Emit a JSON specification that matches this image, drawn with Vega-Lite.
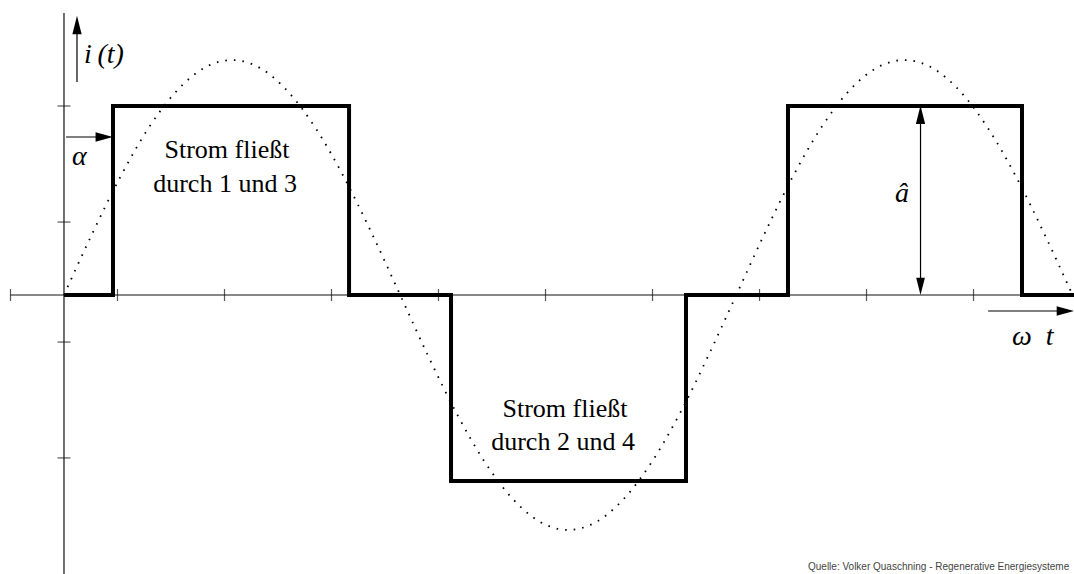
{
  "$schema": "https://vega.github.io/schema/vega-lite/v6.json",
  "width": 1074,
  "height": 574,
  "autosize": {"type": "none"},
  "padding": 0,
  "background": "white",
  "config": {"view": {"stroke": null}},
  "datasets": {
    "axes": [
      {"x": -0.5, "y": 0, "x2": 9.44, "y2": 0},
      {"x": 0, "y": 1.492, "x2": 0, "y2": -1.48}
    ],
    "ticks": [
      {"axis": "x", "v": -0.5}, {"axis": "x", "v": 0.5}, {"axis": "x", "v": 1.5},
      {"axis": "x", "v": 2.5}, {"axis": "x", "v": 3.5}, {"axis": "x", "v": 4.5},
      {"axis": "x", "v": 5.5}, {"axis": "x", "v": 6.5}, {"axis": "x", "v": 7.5},
      {"axis": "x", "v": 8.5},
      {"axis": "y", "v": 1.0}, {"axis": "y", "v": 0.386},
      {"axis": "y", "v": -0.249}, {"axis": "y", "v": -0.862}
    ],
    "sine": [
      {"x": 0, "y": 0}, {"x": 0.262, "y": 0.322}, {"x": 0.524, "y": 0.622},
      {"x": 0.785, "y": 0.879}, {"x": 1.047, "y": 1.076}, {"x": 1.309, "y": 1.201},
      {"x": 1.571, "y": 1.243}, {"x": 1.833, "y": 1.201}, {"x": 2.094, "y": 1.076},
      {"x": 2.356, "y": 0.879}, {"x": 2.618, "y": 0.622}, {"x": 2.880, "y": 0.322},
      {"x": 3.142, "y": 0}, {"x": 3.403, "y": -0.322}, {"x": 3.665, "y": -0.622},
      {"x": 3.927, "y": -0.879}, {"x": 4.189, "y": -1.076}, {"x": 4.451, "y": -1.201},
      {"x": 4.712, "y": -1.243}, {"x": 4.974, "y": -1.201}, {"x": 5.236, "y": -1.076},
      {"x": 5.498, "y": -0.879}, {"x": 5.760, "y": -0.622}, {"x": 6.021, "y": -0.322},
      {"x": 6.283, "y": 0}, {"x": 6.545, "y": 0.322}, {"x": 6.807, "y": 0.622},
      {"x": 7.069, "y": 0.879}, {"x": 7.330, "y": 1.076}, {"x": 7.592, "y": 1.201},
      {"x": 7.854, "y": 1.243}, {"x": 8.116, "y": 1.201}, {"x": 8.378, "y": 1.076},
      {"x": 8.639, "y": 0.879}, {"x": 8.901, "y": 0.622}, {"x": 9.163, "y": 0.322},
      {"x": 9.425, "y": 0}
    ],
    "square": [
      {"i": 0, "x": 0, "y": 0}, {"i": 1, "x": 0.458, "y": 0}, {"i": 2, "x": 0.458, "y": 1},
      {"i": 3, "x": 2.664, "y": 1}, {"i": 4, "x": 2.664, "y": 0}, {"i": 5, "x": 3.617, "y": 0},
      {"i": 6, "x": 3.617, "y": -0.984}, {"i": 7, "x": 5.813, "y": -0.984}, {"i": 8, "x": 5.813, "y": 0},
      {"i": 9, "x": 6.766, "y": 0}, {"i": 10, "x": 6.766, "y": 1}, {"i": 11, "x": 8.953, "y": 1},
      {"i": 12, "x": 8.953, "y": 0}, {"i": 13, "x": 9.44, "y": 0}
    ],
    "shafts": [
      {"name": "i(t)", "x": 0.1215, "y": 1.127, "x2": 0.1215, "y2": 1.40},
      {"name": "alpha", "x": 0.019, "y": 0.836, "x2": 0.36, "y2": 0.836},
      {"name": "ahat", "x": 8.0047, "y": 0.05, "x2": 8.0047, "y2": 0.95},
      {"name": "omega t", "x": 8.636, "y": -0.0847, "x2": 9.34, "y2": -0.0847}
    ],
    "heads": [
      {"name": "i(t)", "dir": "up", "x": 0.1215, "y": 1.4286},
      {"name": "ahat", "dir": "up", "x": 8.0047, "y": 0.954},
      {"name": "ahat", "dir": "down", "x": 8.0047, "y": 0.046},
      {"name": "alpha", "dir": "right", "x": 0.376, "y": 0.836},
      {"name": "omega t", "dir": "right", "x": 9.358, "y": -0.0847}
    ],
    "labels": [
      {"kind": "region", "x": 1.523, "y": 0.725, "text": "Strom fließt"},
      {"kind": "region", "x": 1.505, "y": 0.545, "text": "durch 1 und 3"},
      {"kind": "region", "x": 4.682, "y": -0.6455, "text": "Strom fließt"},
      {"kind": "region", "x": 4.664, "y": -0.820, "text": "durch 2 und 4"},
      {"kind": "math", "x": 0.187, "y": 1.228, "text": "i\u2009(t)"},
      {"kind": "math", "x": 0.075, "y": 0.688, "text": "α"},
      {"kind": "math", "x": 7.766, "y": 0.492, "text": "â"},
      {"kind": "math", "x": 8.86, "y": -0.265, "text": "ω\u2002t"},
      {"kind": "source", "x": 6.953, "y": -1.455, "text": "Quelle: Volker Quaschning - Regenerative Energiesysteme"}
    ]
  },
  "layer": [
    {
      "data": {"name": "axes"},
      "mark": {"type": "rule", "color": "#111", "strokeWidth": 1.2},
      "encoding": {
        "x": {"field": "x", "type": "quantitative", "scale": {"domain": [-0.598, 9.439], "nice": false, "zero": false}, "axis": null},
        "y": {"field": "y", "type": "quantitative", "scale": {"domain": [-1.4762, 1.5608], "nice": false, "zero": false}, "axis": null},
        "x2": {"field": "x2"},
        "y2": {"field": "y2"}
      }
    },
    {
      "data": {"name": "ticks"},
      "transform": [{"filter": "datum.axis === 'x'"}],
      "mark": {"type": "tick", "orient": "vertical", "size": 12, "thickness": 1.2, "color": "#111"},
      "encoding": {
        "x": {"field": "v", "type": "quantitative"},
        "y": {"datum": 0, "type": "quantitative"}
      }
    },
    {
      "data": {"name": "ticks"},
      "transform": [{"filter": "datum.axis === 'y'"}],
      "mark": {"type": "tick", "orient": "horizontal", "size": 13, "thickness": 1.2, "color": "#111"},
      "encoding": {
        "y": {"field": "v", "type": "quantitative"},
        "x": {"datum": 0, "type": "quantitative"}
      }
    },
    {
      "data": {"name": "sine"},
      "mark": {"type": "line", "color": "#000", "strokeWidth": 1.8, "strokeDash": [1.6, 7], "interpolate": "monotone"},
      "encoding": {
        "x": {"field": "x", "type": "quantitative"},
        "y": {"field": "y", "type": "quantitative"}
      }
    },
    {
      "data": {"name": "square"},
      "mark": {"type": "line", "color": "#000", "strokeWidth": 4, "strokeJoin": "miter", "strokeCap": "butt"},
      "encoding": {
        "x": {"field": "x", "type": "quantitative"},
        "y": {"field": "y", "type": "quantitative"},
        "order": {"field": "i", "type": "quantitative"}
      }
    },
    {
      "data": {"name": "shafts"},
      "mark": {"type": "rule", "color": "#000", "strokeWidth": 1.2},
      "encoding": {
        "x": {"field": "x", "type": "quantitative"},
        "y": {"field": "y", "type": "quantitative"},
        "x2": {"field": "x2"},
        "y2": {"field": "y2"}
      }
    },
    {
      "data": {"name": "heads"},
      "transform": [{"filter": "datum.dir === 'up'"}],
      "mark": {"type": "point", "shape": "M0,-1L0.5,1L-0.5,1Z", "filled": true, "color": "#000", "opacity": 1, "size": 340},
      "encoding": {
        "x": {"field": "x", "type": "quantitative"},
        "y": {"field": "y", "type": "quantitative"}
      }
    },
    {
      "data": {"name": "heads"},
      "transform": [{"filter": "datum.dir === 'down'"}],
      "mark": {"type": "point", "shape": "M0,1L0.5,-1L-0.5,-1Z", "filled": true, "color": "#000", "opacity": 1, "size": 300},
      "encoding": {
        "x": {"field": "x", "type": "quantitative"},
        "y": {"field": "y", "type": "quantitative"}
      }
    },
    {
      "data": {"name": "heads"},
      "transform": [{"filter": "datum.dir === 'right'"}],
      "mark": {"type": "point", "shape": "M1,0L-1,0.55L-1,-0.55Z", "filled": true, "color": "#000", "opacity": 1, "size": 300},
      "encoding": {
        "x": {"field": "x", "type": "quantitative"},
        "y": {"field": "y", "type": "quantitative"}
      }
    },
    {
      "data": {"name": "labels"},
      "transform": [{"filter": "datum.kind === 'region'"}],
      "mark": {"type": "text", "font": "'Times New Roman', 'Liberation Serif', 'DejaVu Serif', serif", "fontSize": 26, "align": "center", "baseline": "alphabetic", "color": "#000"},
      "encoding": {
        "x": {"field": "x", "type": "quantitative"},
        "y": {"field": "y", "type": "quantitative"},
        "text": {"field": "text"}
      }
    },
    {
      "data": {"name": "labels"},
      "transform": [{"filter": "datum.kind === 'math'"}],
      "mark": {"type": "text", "font": "'Times New Roman', 'Liberation Serif', 'DejaVu Serif', serif", "fontStyle": "italic", "fontSize": 28, "align": "left", "baseline": "alphabetic", "color": "#000"},
      "encoding": {
        "x": {"field": "x", "type": "quantitative"},
        "y": {"field": "y", "type": "quantitative"},
        "text": {"field": "text"}
      }
    },
    {
      "data": {"name": "labels"},
      "transform": [{"filter": "datum.kind === 'source'"}],
      "mark": {"type": "text", "font": "'Liberation Sans', Arial, sans-serif", "fontSize": 10, "align": "left", "baseline": "alphabetic", "color": "#444"},
      "encoding": {
        "x": {"field": "x", "type": "quantitative"},
        "y": {"field": "y", "type": "quantitative"},
        "text": {"field": "text"}
      }
    }
  ]
}
